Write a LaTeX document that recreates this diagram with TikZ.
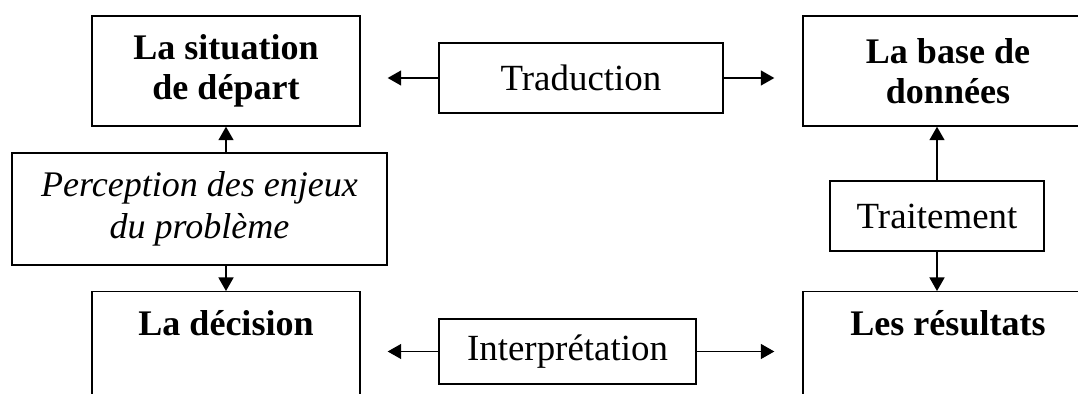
\documentclass[tikz,border=0pt]{standalone}
\usepackage{fontspec}
\setmainfont{Liberation Serif}
\usetikzlibrary{arrows.meta}

\begin{document}
\begin{tikzpicture}[
    box/.style={draw, line width=0.8pt, align=center, inner sep=0pt},
    stage/.style={box, font=\fontsize{20.5}{22.5}\selectfont\bfseries},
    openstage/.style={stage, anchor=north, text height=0.68cm, text depth=3cm, inner ysep=0.2cm},
    step label/.style={box, font=\fontsize{21}{24}\selectfont},
    link/.style={line width=0.8pt, -{Triangle[length=0.27cm,width=0.3cm]}}
  ]
  \useasboundingbox (0,0) rectangle (21.56,7.88);
  \clip (0,0) rectangle (21.56,7.88);

  % left column
  \node[stage, minimum width=5.36cm, minimum height=2.2cm] (sit) at (4.52,6.46) {La situation\\de départ};
  \node[step label, font=\fontsize{20.5}{24}\selectfont\itshape, minimum width=7.5cm, minimum height=2.24cm] (perc) at (3.99,3.70) {Perception des enjeux\\du problème};
  \node[openstage, minimum width=5.36cm] (dec) at (4.52,2.06) {La décision};

  % middle
  \node[step label, minimum width=5.68cm, minimum height=1.4cm] (trad) at (11.62,6.32) {Traduction};
  \node[step label, minimum width=5.14cm, minimum height=1.3cm] (interp) at (11.35,0.85) {Interprétation};

  % right column
  \node[stage, minimum width=5.8cm, minimum height=2.2cm] (base) at (18.96,6.46) {La base de\\données};
  \node[step label, minimum width=4.28cm, minimum height=1.4cm] (trait) at (18.74,3.56) {Traitement};
  \node[openstage, minimum width=5.8cm] (res) at (18.96,2.06) {Les résultats};

  \draw[link] (sit.south |- perc.north) -- (sit.south);
  \draw[link] (dec.north |- perc.south) -- (dec.north);
  \draw[link, shorten >=0.54cm] (trad.west) -- (trad.west -| sit.east);
  \draw[link, shorten >=0.56cm] (trad.east) -- (trad.east -| base.west);
  \draw[link] (trait.north) -- (trait.north |- base.south);
  \draw[link] (trait.south) -- (trait.south |- res.north);
  \draw[link, shorten >=0.54cm] (interp.west) -- (interp.west -| dec.east);
  \draw[link, shorten >=0.56cm] (interp.east) -- (interp.east -| res.west);
\end{tikzpicture}
\end{document}
